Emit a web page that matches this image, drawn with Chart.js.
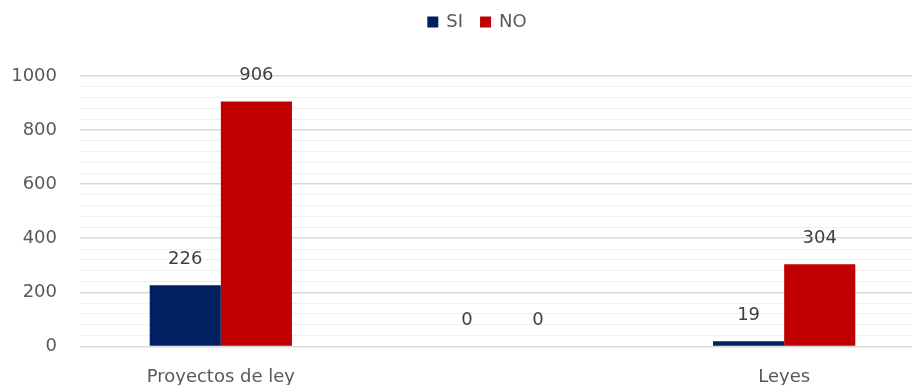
<!DOCTYPE html>
<html>
<head>
<meta charset="utf-8">
<script src="https://cdn.jsdelivr.net/npm/chart.js@4.4.1/dist/chart.umd.min.js"></script>
<style>
  html, body { margin: 0; padding: 0; background: #fff; overflow: hidden; }
  #wrap { width: 954px; height: 385px; }
</style>
</head>
<body>
<div id="wrap"><canvas id="chart"></canvas></div>
<script>
// chart data
const categories = ["Proyectos de ley", "", "Leyes"];
const siValues = [226, 0, 19];
const noValues = [906, 0, 304];
const yTicks = [0, 200, 400, 600, 800, 1000];

const textColor = "#595959";
const fontFamily = "'DejaVu Sans', sans-serif";

// draw values above each bar
const valueLabels = {
    id: "valueLabels",
    afterDatasetsDraw(chart) {
        const ctx = chart.ctx;
        ctx.save();
        ctx.font = "18px " + fontFamily;
        ctx.fillStyle = "#404040";
        ctx.textAlign = "center";
        ctx.textBaseline = "middle";
        chart.data.datasets.forEach((ds, i) => {
            chart.getDatasetMeta(i).data.forEach((bar, j) => {
                ctx.fillText(ds.data[j], bar.x, bar.y - 26);
            });
        });
        ctx.restore();
    }
};

// simple legend centred on the canvas (the built-in one centres on the padded box)
const topLegend = {
    id: "topLegend",
    afterDraw(chart) {
        const ctx = chart.ctx;
        const box = 11, gap = 8, itemGap = 17, y = 22;
        ctx.save();
        ctx.font = "18px " + fontFamily;
        ctx.textBaseline = "middle";
        const items = chart.data.datasets.map(ds => ({
            label: ds.label, color: ds.backgroundColor, w: box + gap + ctx.measureText(ds.label).width
        }));
        const total = items.reduce((s, it) => s + it.w, 0) + itemGap * (items.length - 1);
        let x = chart.width / 2 - total / 2;
        items.forEach(it => {
            ctx.fillStyle = it.color;
            ctx.fillRect(x, y - box / 2, box, box);
            ctx.fillStyle = textColor;
            ctx.fillText(it.label, x + box + gap, y);
            x += it.w + itemGap;
        });
        ctx.restore();
    }
};

new Chart(document.getElementById("chart"), {
    type: "bar",
    data: {
        labels: categories,
        datasets: [
            { label: "SI", data: siValues, backgroundColor: "#002060" },
            { label: "NO", data: noValues, backgroundColor: "#c00000" }
        ]
    },
    options: {
        responsive: true,
        maintainAspectRatio: false,
        animation: false,
        datasets: { bar: { barPercentage: 1, categoryPercentage: 0.505 } },
        layout: { padding: { top: 76, right: 29, left: 0, bottom: -15 } },
        plugins: {
            tooltip: { enabled: false },
            legend: { display: false }
        },
        scales: {
            x: {
                grid: { display: false },
                border: { display: false },
                ticks: { color: textColor, font: { family: fontFamily, size: 18 }, padding: 12 }
            },
            y: {
                min: 0,
                max: 1000,
                border: { display: false },
                afterFit: scale => { scale.width = 80; },
                grid: {
                    color: c => (c.tick.value % 200 === 0 ? "#d9d9d9" : "#f0f0f0"),
                    lineWidth: c => (c.tick.value % 200 === 0 ? 1.5 : 1),
                    drawTicks: false
                },
                ticks: {
                    stepSize: 40,
                    autoSkip: false,
                    padding: 23,
                    color: textColor,
                    font: { family: fontFamily, size: 18 },
                    callback: v => (yTicks.includes(v) ? v : "")
                }
            }
        }
    },
    plugins: [valueLabels, topLegend]
});
</script>
</body>
</html>
